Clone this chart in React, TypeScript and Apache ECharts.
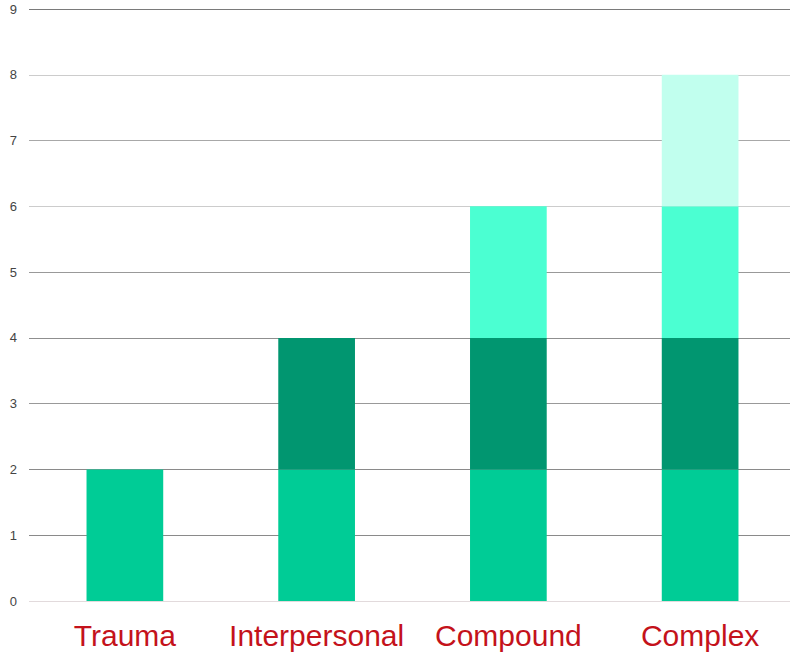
import React, { useEffect, useRef } from "react";
import * as echarts from "echarts";

const categories = ["Trauma", "Interpersonal", "Compound", "Complex"];
const level1 = [2, 2, 2, 2];
const level2 = [0, 2, 2, 2];
const level3 = [0, 0, 2, 2];
const level4 = [0, 0, 0, 2];
const seriesColors = ["#00CC96", "#019670", "#4BFFD2", "#C1FFEE"];
const gridColors = ["#e2dadc", "#8a8a8a", "#8a8a8a", "#999999", "#8f8f8f", "#999999", "#cccccc", "#a8a8a8", "#cccccc", "#7a7a7a"];

export default function App() {
  const ref = useRef<HTMLDivElement>(null);
  useEffect(() => {
    document.body.style.overflow = "hidden";
    const chart = echarts.init(ref.current!, null, { renderer: "svg" });
    const data = [level1, level2, level3, level4];
    chart.setOption({
      animation: false,
      grid: { left: 29, right: 4, top: 9, bottom: 54, containLabel: false },
      xAxis: {
        type: "category",
        data: categories,
        axisLine: { show: false },
        axisTick: { show: false },
        axisLabel: {
          interval: 0,
          color: "#c4121b",
          fontSize: 30,
          fontFamily: "Liberation Sans, Arial, sans-serif",
          margin: 19,
        },
      },
      yAxis: {
        type: "value",
        min: 0,
        max: 9,
        interval: 1,
        axisLine: { show: false },
        axisTick: { show: false },
        axisLabel: {
          color: "#444444",
          fontSize: 13,
          fontFamily: "Liberation Sans, Arial, sans-serif",
          margin: 12,
        },
        splitLine: { lineStyle: { color: gridColors, width: 1 } },
      },
      series: data.map((d, i) => ({
        type: "bar",
        stack: "total",
        barWidth: "40%",
        data: d,
        itemStyle: { color: seriesColors[i] },
      })),
    });
    return () => chart.dispose();
  }, []);
  return (
    <div
      ref={ref}
      style={{ position: "absolute", left: 0, top: 0, width: 800, height: 655 }}
    />
  );
}
